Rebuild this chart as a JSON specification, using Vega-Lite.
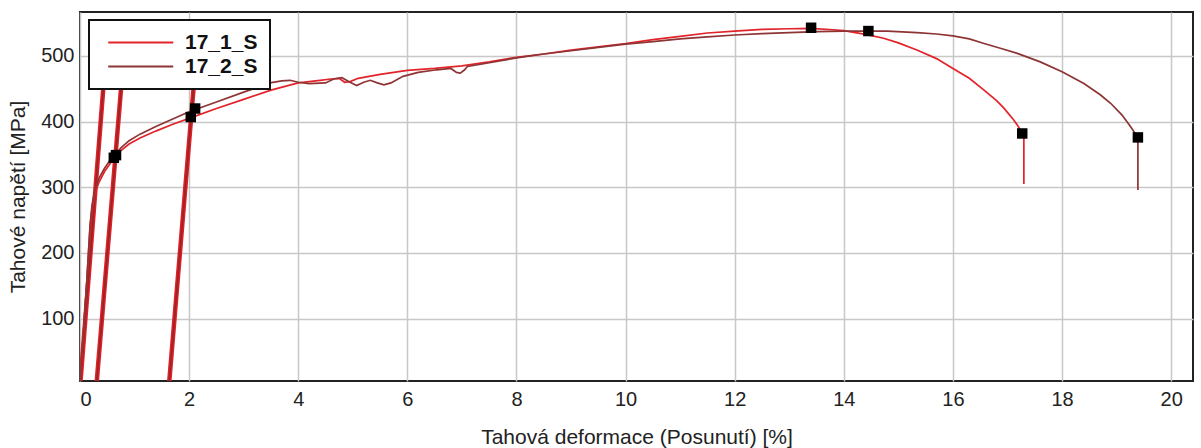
{
  "$schema": "https://vega.github.io/schema/vega-lite/v6.json",
  "width": 1113,
  "height": 369,
  "autosize": {"type": "none"},
  "padding": {"left": 80, "top": 12, "right": 8, "bottom": 67},
  "background": "white",
  "config": {
    "font": "Liberation Sans",
    "view": {"stroke": "#222222", "strokeWidth": 2},
    "axis": {
      "grid": true,
      "gridColor": "#c8c8c8",
      "gridWidth": 1.5,
      "domain": false,
      "ticks": false,
      "labelFont": "Liberation Sans",
      "labelFontSize": 20,
      "labelColor": "#222222",
      "titleFont": "Liberation Sans",
      "titleFontSize": 21,
      "titleFontWeight": "normal",
      "titleColor": "#222222"
    },
    "legend": {
      "strokeColor": "#111111",
      "fillColor": "white",
      "padding": 12,
      "strokeWidth": 2
    }
  },
  "data": {
    "values": [
      {"s": "17_1_S", "k": "l", "g": "A", "x": 0.01, "y": 5},
      {"s": "17_1_S", "k": "l", "g": "A", "x": 0.51, "y": 540},
      {"s": "17_2_S", "k": "l", "g": "A", "x": 0.01, "y": 5},
      {"s": "17_2_S", "k": "l", "g": "A", "x": 0.51, "y": 540},
      {"s": "17_1_S", "k": "l", "g": "B", "x": 0.308, "y": 5},
      {"s": "17_1_S", "k": "l", "g": "B", "x": 0.842, "y": 540},
      {"s": "17_2_S", "k": "l", "g": "B", "x": 0.308, "y": 5},
      {"s": "17_2_S", "k": "l", "g": "B", "x": 0.842, "y": 540},
      {"s": "17_1_S", "k": "l", "g": "C", "x": 1.637, "y": 5},
      {"s": "17_1_S", "k": "l", "g": "C", "x": 2.17, "y": 540},
      {"s": "17_2_S", "k": "l", "g": "C", "x": 1.637, "y": 5},
      {"s": "17_2_S", "k": "l", "g": "C", "x": 2.17, "y": 540},

      {"s": "17_1_S", "k": "c", "i": 1, "x": 0, "y": 5},
      {"s": "17_1_S", "k": "c", "i": 2, "x": 0.04, "y": 50},
      {"s": "17_1_S", "k": "c", "i": 3, "x": 0.08, "y": 100},
      {"s": "17_1_S", "k": "c", "i": 4, "x": 0.12, "y": 150},
      {"s": "17_1_S", "k": "c", "i": 5, "x": 0.155, "y": 200},
      {"s": "17_1_S", "k": "c", "i": 6, "x": 0.185, "y": 240},
      {"s": "17_1_S", "k": "c", "i": 7, "x": 0.22, "y": 268},
      {"s": "17_1_S", "k": "c", "i": 8, "x": 0.27, "y": 290},
      {"s": "17_1_S", "k": "c", "i": 9, "x": 0.35, "y": 308},
      {"s": "17_1_S", "k": "c", "i": 10, "x": 0.45, "y": 324},
      {"s": "17_1_S", "k": "c", "i": 11, "x": 0.55, "y": 336},
      {"s": "17_1_S", "k": "c", "i": 12, "x": 0.65, "y": 347},
      {"s": "17_1_S", "k": "c", "i": 13, "x": 0.75, "y": 356},
      {"s": "17_1_S", "k": "c", "i": 14, "x": 0.9, "y": 366},
      {"s": "17_1_S", "k": "c", "i": 15, "x": 1.1, "y": 375},
      {"s": "17_1_S", "k": "c", "i": 16, "x": 1.4, "y": 386},
      {"s": "17_1_S", "k": "c", "i": 17, "x": 1.7, "y": 396},
      {"s": "17_1_S", "k": "c", "i": 18, "x": 2.0, "y": 405},
      {"s": "17_1_S", "k": "c", "i": 19, "x": 2.5, "y": 420},
      {"s": "17_1_S", "k": "c", "i": 20, "x": 3.0, "y": 434},
      {"s": "17_1_S", "k": "c", "i": 21, "x": 3.5, "y": 448},
      {"s": "17_1_S", "k": "c", "i": 22, "x": 4.0, "y": 459},
      {"s": "17_1_S", "k": "c", "i": 23, "x": 4.4, "y": 463},
      {"s": "17_1_S", "k": "c", "i": 24, "x": 4.6, "y": 465},
      {"s": "17_1_S", "k": "c", "i": 25, "x": 4.75, "y": 466},
      {"s": "17_1_S", "k": "c", "i": 26, "x": 4.85, "y": 460},
      {"s": "17_1_S", "k": "c", "i": 27, "x": 4.95, "y": 461},
      {"s": "17_1_S", "k": "c", "i": 28, "x": 5.1, "y": 466},
      {"s": "17_1_S", "k": "c", "i": 29, "x": 5.5, "y": 472},
      {"s": "17_1_S", "k": "c", "i": 30, "x": 6.0, "y": 478},
      {"s": "17_1_S", "k": "c", "i": 31, "x": 6.5, "y": 481},
      {"s": "17_1_S", "k": "c", "i": 32, "x": 7.0, "y": 485},
      {"s": "17_1_S", "k": "c", "i": 33, "x": 7.5, "y": 491},
      {"s": "17_1_S", "k": "c", "i": 34, "x": 8.0, "y": 498},
      {"s": "17_1_S", "k": "c", "i": 35, "x": 8.5, "y": 503},
      {"s": "17_1_S", "k": "c", "i": 36, "x": 9.0, "y": 509},
      {"s": "17_1_S", "k": "c", "i": 37, "x": 9.5, "y": 514},
      {"s": "17_1_S", "k": "c", "i": 38, "x": 10.0, "y": 519},
      {"s": "17_1_S", "k": "c", "i": 39, "x": 10.5, "y": 525},
      {"s": "17_1_S", "k": "c", "i": 40, "x": 11.0, "y": 530},
      {"s": "17_1_S", "k": "c", "i": 41, "x": 11.5, "y": 535},
      {"s": "17_1_S", "k": "c", "i": 42, "x": 12.0, "y": 538},
      {"s": "17_1_S", "k": "c", "i": 43, "x": 12.5, "y": 540.5},
      {"s": "17_1_S", "k": "c", "i": 44, "x": 13.0, "y": 541.5},
      {"s": "17_1_S", "k": "c", "i": 45, "x": 13.4, "y": 542},
      {"s": "17_1_S", "k": "c", "i": 46, "x": 13.8, "y": 540},
      {"s": "17_1_S", "k": "c", "i": 47, "x": 14.0, "y": 538.5},
      {"s": "17_1_S", "k": "c", "i": 48, "x": 14.4, "y": 533},
      {"s": "17_1_S", "k": "c", "i": 49, "x": 14.73, "y": 527},
      {"s": "17_1_S", "k": "c", "i": 50, "x": 15.0, "y": 520},
      {"s": "17_1_S", "k": "c", "i": 51, "x": 15.34, "y": 509},
      {"s": "17_1_S", "k": "c", "i": 52, "x": 15.7, "y": 496},
      {"s": "17_1_S", "k": "c", "i": 53, "x": 16.0, "y": 481},
      {"s": "17_1_S", "k": "c", "i": 54, "x": 16.3, "y": 466},
      {"s": "17_1_S", "k": "c", "i": 55, "x": 16.57, "y": 448},
      {"s": "17_1_S", "k": "c", "i": 56, "x": 16.8, "y": 432},
      {"s": "17_1_S", "k": "c", "i": 57, "x": 16.93, "y": 421},
      {"s": "17_1_S", "k": "c", "i": 58, "x": 17.1, "y": 404},
      {"s": "17_1_S", "k": "c", "i": 59, "x": 17.18, "y": 395},
      {"s": "17_1_S", "k": "c", "i": 60, "x": 17.27, "y": 382},
      {"s": "17_1_S", "k": "c", "i": 61, "x": 17.3, "y": 378},
      {"s": "17_1_S", "k": "c", "i": 62, "x": 17.3, "y": 305},

      {"s": "17_2_S", "k": "c", "i": 1, "x": 0, "y": 5},
      {"s": "17_2_S", "k": "c", "i": 2, "x": 0.04, "y": 50},
      {"s": "17_2_S", "k": "c", "i": 3, "x": 0.08, "y": 100},
      {"s": "17_2_S", "k": "c", "i": 4, "x": 0.12, "y": 150},
      {"s": "17_2_S", "k": "c", "i": 5, "x": 0.155, "y": 200},
      {"s": "17_2_S", "k": "c", "i": 6, "x": 0.185, "y": 243},
      {"s": "17_2_S", "k": "c", "i": 7, "x": 0.22, "y": 273},
      {"s": "17_2_S", "k": "c", "i": 8, "x": 0.27, "y": 295},
      {"s": "17_2_S", "k": "c", "i": 9, "x": 0.35, "y": 314},
      {"s": "17_2_S", "k": "c", "i": 10, "x": 0.45, "y": 329},
      {"s": "17_2_S", "k": "c", "i": 11, "x": 0.55, "y": 341},
      {"s": "17_2_S", "k": "c", "i": 12, "x": 0.65, "y": 350},
      {"s": "17_2_S", "k": "c", "i": 13, "x": 0.75, "y": 360},
      {"s": "17_2_S", "k": "c", "i": 14, "x": 0.9, "y": 371},
      {"s": "17_2_S", "k": "c", "i": 15, "x": 1.1, "y": 381},
      {"s": "17_2_S", "k": "c", "i": 16, "x": 1.4, "y": 393},
      {"s": "17_2_S", "k": "c", "i": 17, "x": 1.7, "y": 404},
      {"s": "17_2_S", "k": "c", "i": 18, "x": 2.0, "y": 415},
      {"s": "17_2_S", "k": "c", "i": 19, "x": 2.5, "y": 430},
      {"s": "17_2_S", "k": "c", "i": 20, "x": 3.0, "y": 445},
      {"s": "17_2_S", "k": "c", "i": 21, "x": 3.48, "y": 459},
      {"s": "17_2_S", "k": "c", "i": 22, "x": 3.7, "y": 462},
      {"s": "17_2_S", "k": "c", "i": 23, "x": 3.85, "y": 463},
      {"s": "17_2_S", "k": "c", "i": 24, "x": 4.0, "y": 460},
      {"s": "17_2_S", "k": "c", "i": 25, "x": 4.2, "y": 458},
      {"s": "17_2_S", "k": "c", "i": 26, "x": 4.5, "y": 459},
      {"s": "17_2_S", "k": "c", "i": 27, "x": 4.65, "y": 465},
      {"s": "17_2_S", "k": "c", "i": 28, "x": 4.8, "y": 467},
      {"s": "17_2_S", "k": "c", "i": 29, "x": 4.95, "y": 460},
      {"s": "17_2_S", "k": "c", "i": 30, "x": 5.07, "y": 455},
      {"s": "17_2_S", "k": "c", "i": 31, "x": 5.2, "y": 460},
      {"s": "17_2_S", "k": "c", "i": 32, "x": 5.32, "y": 463},
      {"s": "17_2_S", "k": "c", "i": 33, "x": 5.45, "y": 459},
      {"s": "17_2_S", "k": "c", "i": 34, "x": 5.57, "y": 456},
      {"s": "17_2_S", "k": "c", "i": 35, "x": 5.7, "y": 459},
      {"s": "17_2_S", "k": "c", "i": 36, "x": 5.92, "y": 469},
      {"s": "17_2_S", "k": "c", "i": 37, "x": 6.2, "y": 475},
      {"s": "17_2_S", "k": "c", "i": 38, "x": 6.54, "y": 479},
      {"s": "17_2_S", "k": "c", "i": 39, "x": 6.8, "y": 481},
      {"s": "17_2_S", "k": "c", "i": 40, "x": 6.9, "y": 475},
      {"s": "17_2_S", "k": "c", "i": 41, "x": 6.97, "y": 474},
      {"s": "17_2_S", "k": "c", "i": 42, "x": 7.05, "y": 479},
      {"s": "17_2_S", "k": "c", "i": 43, "x": 7.1, "y": 484},
      {"s": "17_2_S", "k": "c", "i": 44, "x": 7.45, "y": 489},
      {"s": "17_2_S", "k": "c", "i": 45, "x": 8.0, "y": 497},
      {"s": "17_2_S", "k": "c", "i": 46, "x": 8.5, "y": 503},
      {"s": "17_2_S", "k": "c", "i": 47, "x": 9.0, "y": 508},
      {"s": "17_2_S", "k": "c", "i": 48, "x": 9.5, "y": 513},
      {"s": "17_2_S", "k": "c", "i": 49, "x": 10.0, "y": 518},
      {"s": "17_2_S", "k": "c", "i": 50, "x": 10.5, "y": 522},
      {"s": "17_2_S", "k": "c", "i": 51, "x": 11.0, "y": 526},
      {"s": "17_2_S", "k": "c", "i": 52, "x": 11.5, "y": 529},
      {"s": "17_2_S", "k": "c", "i": 53, "x": 12.0, "y": 532},
      {"s": "17_2_S", "k": "c", "i": 54, "x": 12.5, "y": 534},
      {"s": "17_2_S", "k": "c", "i": 55, "x": 13.0, "y": 535.5},
      {"s": "17_2_S", "k": "c", "i": 56, "x": 13.5, "y": 537},
      {"s": "17_2_S", "k": "c", "i": 57, "x": 14.0, "y": 538},
      {"s": "17_2_S", "k": "c", "i": 58, "x": 14.45, "y": 538},
      {"s": "17_2_S", "k": "c", "i": 59, "x": 14.8, "y": 538},
      {"s": "17_2_S", "k": "c", "i": 60, "x": 15.34, "y": 535.5},
      {"s": "17_2_S", "k": "c", "i": 61, "x": 15.7, "y": 533.5},
      {"s": "17_2_S", "k": "c", "i": 62, "x": 16.0, "y": 530.5},
      {"s": "17_2_S", "k": "c", "i": 63, "x": 16.3, "y": 526},
      {"s": "17_2_S", "k": "c", "i": 64, "x": 16.57, "y": 519},
      {"s": "17_2_S", "k": "c", "i": 65, "x": 16.9, "y": 511},
      {"s": "17_2_S", "k": "c", "i": 66, "x": 17.18, "y": 504},
      {"s": "17_2_S", "k": "c", "i": 67, "x": 17.6, "y": 491},
      {"s": "17_2_S", "k": "c", "i": 68, "x": 18.0, "y": 476},
      {"s": "17_2_S", "k": "c", "i": 69, "x": 18.4, "y": 458},
      {"s": "17_2_S", "k": "c", "i": 70, "x": 18.7, "y": 441},
      {"s": "17_2_S", "k": "c", "i": 71, "x": 18.89, "y": 428},
      {"s": "17_2_S", "k": "c", "i": 72, "x": 19.1, "y": 410},
      {"s": "17_2_S", "k": "c", "i": 73, "x": 19.26, "y": 392},
      {"s": "17_2_S", "k": "c", "i": 74, "x": 19.39, "y": 376},
      {"s": "17_2_S", "k": "c", "i": 75, "x": 19.39, "y": 296},

      {"k": "m", "x": 0.62, "y": 345},
      {"k": "m", "x": 0.66, "y": 349},
      {"k": "m", "x": 2.03, "y": 407},
      {"k": "m", "x": 2.11, "y": 420},
      {"k": "m", "x": 13.4, "y": 543},
      {"k": "m", "x": 14.45, "y": 538},
      {"k": "m", "x": 17.27, "y": 382},
      {"k": "m", "x": 19.39, "y": 376}
    ]
  },
  "encoding": {
    "x": {
      "field": "x",
      "type": "quantitative",
      "scale": {"domain": [0, 20.4], "nice": false, "zero": false},
      "axis": {
        "values": [0, 2, 4, 6, 8, 10, 12, 14, 16, 18, 20],
        "labelPadding": 8,
        "title": "Tahová deformace (Posunutí) [%]",
        "titleX": 556.5,
        "titleY": 56,
        "titleBaseline": "middle"
      }
    },
    "y": {
      "field": "y",
      "type": "quantitative",
      "scale": {"domain": [5, 567], "nice": false, "zero": false},
      "axis": {
        "values": [100, 200, 300, 400, 500],
        "labelPadding": 6,
        "title": "Tahové napětí [MPa]",
        "titleX": -62,
        "titleY": 184.5,
        "titleBaseline": "middle",
        "titleAngle": -90
      }
    }
  },
  "layer": [
    {
      "transform": [{"filter": "datum.k === 'l'"}],
      "mark": {"type": "line", "strokeWidth": 4.5, "clip": true, "color": "#e41e24"},
      "encoding": {"detail": {"field": "g"}}
    },
    {
      "transform": [{"filter": "datum.k === 'l'"}],
      "mark": {"type": "line", "strokeWidth": 1.6, "clip": true, "color": "#7a2a2a", "opacity": 0.8},
      "encoding": {"detail": {"field": "g"}}
    },
    {
      "transform": [{"filter": "datum.k === 'c'"}],
      "mark": {"type": "line", "strokeWidth": 1.7, "clip": true},
      "encoding": {
        "order": {"field": "i", "type": "quantitative"},
        "color": {
          "field": "s",
          "type": "nominal",
          "scale": {"domain": ["17_1_S", "17_2_S"], "range": ["#e3232a", "#8e3434"]},
          "legend": {
            "title": null,
            "orient": "none",
            "legendX": 9,
            "legendY": 8,
            "symbolType": "M-0.5,0H9.5",
            "symbolSize": 169,
            "symbolStrokeWidth": 2,
            "labelFont": "Liberation Sans",
            "labelFontSize": 21,
            "labelFontWeight": "bold",
            "labelColor": "#111111",
            "labelOffset": 63,
            "rowPadding": 2
          }
        }
      }
    },
    {
      "transform": [{"filter": "datum.k === 'm'"}],
      "mark": {"type": "square", "size": 110, "color": "black", "filled": true, "opacity": 1}
    }
  ]
}
